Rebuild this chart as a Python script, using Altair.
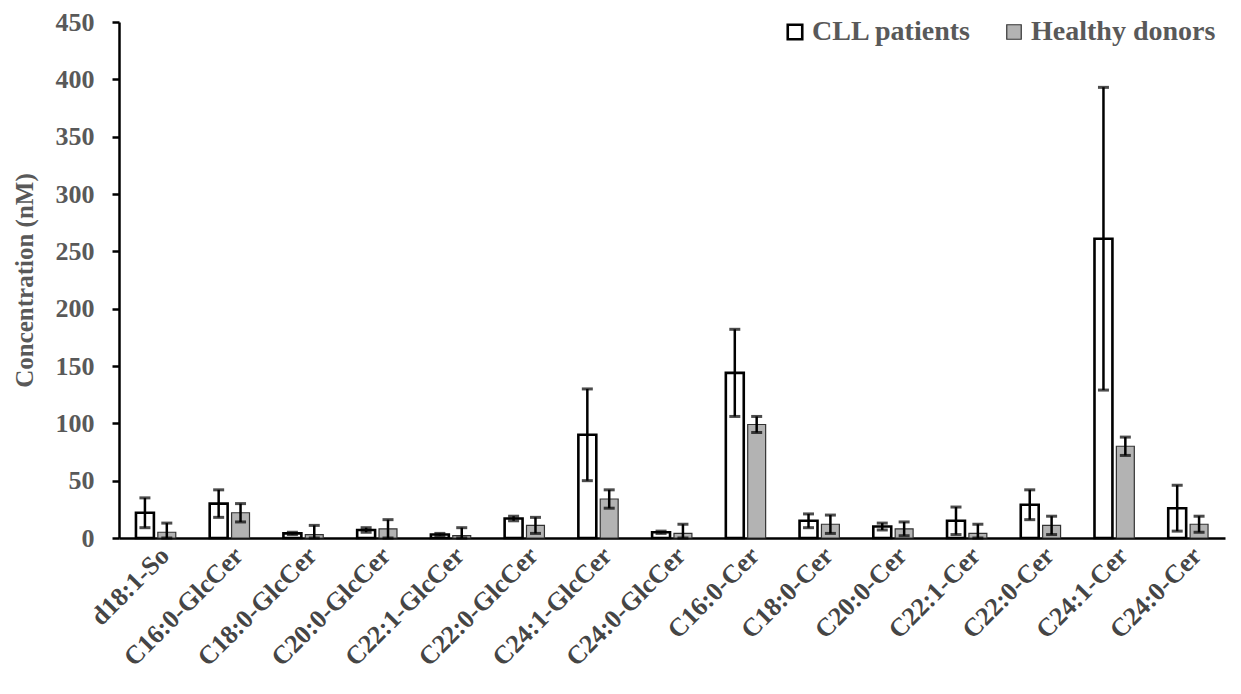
import altair as alt
import pandas as pd

categories = ["d18:1-So", "C16:0-GlcCer", "C18:0-GlcCer", "C20:0-GlcCer", "C22:1-GlcCer",
              "C22:0-GlcCer", "C24:1-GlcCer", "C24:0-GlcCer", "C16:0-Cer", "C18:0-Cer",
              "C20:0-Cer", "C22:1-Cer", "C22:0-Cer", "C24:1-Cer", "C24:0-Cer"]
groups = ["CLL patients", "Healthy donors"]
cll_mean = [22, 30, 4, 7, 3, 17, 90, 5, 144, 15, 10, 15, 29, 261, 26]
cll_sd = [13, 12, 1, 2, 1, 2, 40, 1, 38, 6, 3, 12, 13, 132, 20]
hd_mean = [5, 22, 3, 8, 2, 11, 34, 4, 99, 12, 8, 4, 11, 80, 12]
hd_sd = [8, 8, 8, 8, 7, 7, 8, 8, 7, 8, 6, 8, 8, 8, 7]

rows = []
for i, c in enumerate(categories):
    rows.append({"lipid": c, "group": groups[0], "mean": cll_mean[i], "sd": cll_sd[i]})
    rows.append({"lipid": c, "group": groups[1], "mean": hd_mean[i], "sd": hd_sd[i]})
df = pd.DataFrame(rows)

FONT = "Liberation Serif"
GRAY = "#595959"


def legend():
    return alt.Legend(title=None, orient="none", legendX=662, legendY=-4,
                      direction="horizontal", symbolType="square",
                      symbolSize=210, labelFont=FONT, labelFontSize=28,
                      labelFontWeight="bold", labelColor=GRAY, labelLimit=400,
                      columnPadding=28, labelOffset=3)


x = alt.X("lipid:N", sort=categories,
          scale=alt.Scale(paddingInner=0.46, paddingOuter=0.23),
          axis=alt.Axis(title=None, labelAngle=-45, labelFont=FONT, labelFontSize=26,
                        labelFontWeight="bold", labelColor="#454545", ticks=False,
                        labelPadding=4, domainColor="black", domainWidth=2.5))
xoff = alt.XOffset("group:N", sort=groups, scale=alt.Scale(paddingInner=0.18))

base = alt.Chart(df).transform_calculate(
    lo="max(datum.mean - datum.sd, 0)", hi="datum.mean + datum.sd")

bars = base.mark_bar().encode(
    x=x, xOffset=xoff,
    y=alt.Y("mean:Q", scale=alt.Scale(domain=[0, 450]),
            axis=alt.Axis(title="Concentration (nM)", values=list(range(0, 451, 50)),
                          grid=False, domainColor="black", domainWidth=2.5,
                          tickColor="black", tickWidth=2.5, tickSize=7,
                          labelFont=FONT, labelFontSize=26, labelFontWeight="bold",
                          labelColor=GRAY, labelPadding=18,
                          titleFont=FONT, titleFontSize=25, titleFontWeight="bold",
                          titleColor=GRAY, titlePadding=18)),
    fill=alt.Fill("group:N", sort=groups,
                  scale=alt.Scale(domain=groups, range=["white", "#b3b3b3"]),
                  legend=legend()),
    stroke=alt.Stroke("group:N", sort=groups,
                      scale=alt.Scale(domain=groups, range=["black", "#333333"]),
                      legend=legend()),
    strokeWidth=alt.StrokeWidth("group:N", sort=groups,
                                scale=alt.Scale(domain=groups, range=[2.6, 1.2]),
                                legend=legend()),
)

rules = base.mark_rule(color="black", strokeWidth=2.5).encode(
    x=x, xOffset=xoff, y="lo:Q", y2="hi:Q")
cap_hi = base.mark_tick(color="black", thickness=3, size=11).encode(
    x=x, xOffset=xoff, y="hi:Q")
cap_lo = base.mark_tick(color="black", thickness=3, size=11).encode(
    x=x, xOffset=xoff, y="lo:Q")

chart = alt.layer(bars, rules, cap_hi, cap_lo).properties(
    width=1106, height=516,
    autosize=alt.AutoSizeParams(type="none"),
    padding={"left": 119, "top": 22, "right": 16, "bottom": 156},
).configure_view(stroke=None)

chart.save("out.html", embed_options={"renderer": "svg", "actions": False})
